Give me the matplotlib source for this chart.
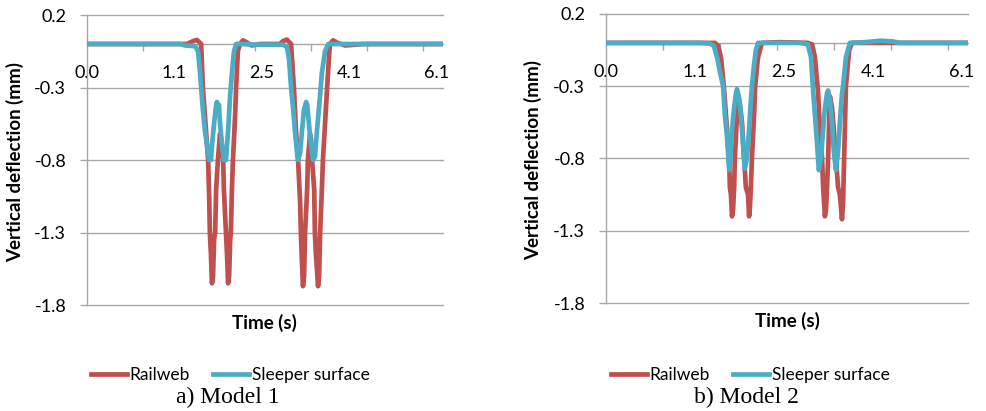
import matplotlib
matplotlib.use("Agg")
import matplotlib.pyplot as plt
from matplotlib.lines import Line2D

plt.rcParams['font.family'] = ['Lato', 'DejaVu Sans']

# ---------------- data (x in category/sample positions along the Excel axis) -------------
time_labels = ["0.0", "1.1", "2.5", "4.1", "6.1"]
label_pos = [0, 25, 50, 75, 100]
minor_pos = [0, 16, 32, 48, 64, 80, 96]
y_ticks = [0.2, -0.3, -0.8, -1.3, -1.8]
x_max = 101.7

m1_rail_x = [0, 28.6, 30.3, 31.4, 32.6, 33.1, 34.0, 34.6, 34.9, 35.1, 35.4, 35.7, 36.0, 36.3,
             36.6, 36.9, 37.4, 38.0, 38.3, 38.9, 39.1, 39.7, 40.0, 40.3, 40.6, 40.9, 41.1,
             41.4, 41.7, 42.3, 42.6, 43.1, 43.7, 44.6, 45.7, 47.1, 49.4, 55.1, 56.0, 57.1,
             58.3, 59.1, 59.7, 60.3, 60.9, 61.1, 61.4, 61.7, 62.0, 62.3, 62.9, 63.1, 63.7,
             64.0, 64.3, 64.9, 65.1, 65.4, 66.0, 66.3, 66.6, 67.1, 67.4, 68.0, 68.6, 69.1,
             69.4, 70.3, 71.4, 73.7, 76.6, 78.9, 101.7]
m1_rail_y = [0, 0, 0.02, 0.028, 0.0, -0.3, -0.6, -0.8, -1.05, -1.3, -1.45, -1.65, -1.6, -1.35,
             -1.3, -1.0, -0.8, -0.62, -0.65, -0.8, -1.0, -1.3, -1.45, -1.65, -1.6, -1.35, -1.3,
             -1.0, -0.8, -0.5, -0.3, -0.05, 0.0, 0.025, 0.01, -0.01, 0.0, 0.0, 0.02, 0.03,
             0.0, -0.3, -0.6, -0.8, -1.1, -1.3, -1.5, -1.67, -1.6, -1.3, -1.0, -0.8, -0.62,
             -0.66, -0.8, -1.0, -1.3, -1.45, -1.67, -1.6, -1.3, -1.0, -0.8, -0.55, -0.3, -0.1,
             0.0, 0.025, 0.01, -0.01, -0.005, 0.0, 0.0]

m1_sleeper_x = [0, 26.6, 28.0, 30.9, 31.7, 32.3, 32.6, 33.1, 33.7, 34.3, 34.9, 35.1, 35.4, 35.7,
                36.3, 36.9, 37.1, 37.4, 37.7, 38.0, 38.6, 39.1, 39.7, 40.3, 40.9, 41.4, 42.0,
                42.6, 43.7, 49.4, 56.0, 57.1, 57.7, 58.3, 58.9, 59.4, 60.0, 60.3, 60.9, 61.4,
                62.0, 62.6, 62.9, 63.4, 64.0, 64.6, 65.1, 65.7, 66.6, 67.1, 68.0, 68.9, 101.7]
m1_sleeper_y = [0, 0, -0.01, -0.015, -0.05, -0.2, -0.3, -0.45, -0.6, -0.7, -0.8, -0.75, -0.8,
                -0.7, -0.55, -0.42, -0.4, -0.45, -0.42, -0.55, -0.7, -0.8, -0.8, -0.6, -0.35,
                -0.2, -0.05, 0.0, 0.0, -0.005, -0.005, -0.02, -0.1, -0.3, -0.45, -0.6, -0.75,
                -0.8, -0.75, -0.6, -0.45, -0.4, -0.42, -0.55, -0.7, -0.8, -0.78, -0.6, -0.35,
                -0.2, -0.05, 0.0, 0.0]

m2_rail_x = [0, 26.4, 30.6, 31.5, 32.3, 33.1, 34.0, 34.6, 34.8, 35.1, 35.4, 35.7, 36.0, 36.2,
             36.8, 37.1, 37.6, 38.2, 38.8, 39.3, 39.9, 40.2, 40.4, 40.7, 41.0, 41.6, 41.9,
             42.7, 43.8, 48.9, 56.7, 57.9, 58.7, 59.6, 60.1, 60.7, 61.0, 61.5, 61.8, 62.1,
             62.4, 62.9, 63.5, 64.0, 64.6, 65.2, 65.7, 66.3, 66.6, 66.9, 67.4, 68.3, 69.1,
             74.2, 101.7]
m2_rail_y = [0, 0, 0.0, -0.02, -0.1, -0.3, -0.6, -0.8, -1.0, -1.05, -1.2, -1.15, -1.0, -0.8,
             -0.5, -0.37, -0.42, -0.55, -0.8, -1.0, -1.05, -1.2, -1.15, -1.0, -0.8, -0.5, -0.3,
             -0.1, 0.0, 0.005, 0.0, -0.01, -0.1, -0.35, -0.6, -0.8, -1.0, -1.2, -1.15, -1.0,
             -0.8, -0.37, -0.45, -0.6, -0.8, -1.0, -1.05, -1.22, -1.1, -0.8, -0.3, -0.05, 0.0,
             0.0, 0.0]

m2_sleeper_x = [0, 26.4, 29.2, 30.3, 31.2, 32.0, 32.9, 33.4, 34.0, 34.6, 34.8, 35.4, 36.0,
                36.5, 36.8, 37.4, 37.9, 38.5, 39.0, 39.6, 40.2, 40.7, 41.0, 41.6, 42.1, 42.7,
                54.5, 56.7, 57.6, 58.1, 58.7, 59.3, 59.8, 60.4, 61.0, 61.5, 62.1, 62.4, 62.9,
                63.5, 64.0, 64.6, 65.2, 65.7, 66.3, 66.6, 67.4, 68.5, 72.8, 77.0, 80.6, 82.6,
                101.7]
m2_sleeper_y = [0, 0, -0.005, -0.02, -0.1, -0.2, -0.3, -0.5, -0.65, -0.88, -0.85, -0.6, -0.45,
                -0.35, -0.32, -0.38, -0.5, -0.7, -0.87, -0.8, -0.6, -0.4, -0.3, -0.15, -0.05,
                0.0, 0.0, -0.01, -0.1, -0.3, -0.5, -0.7, -0.88, -0.8, -0.6, -0.45, -0.35, -0.33,
                -0.4, -0.55, -0.75, -0.88, -0.75, -0.55, -0.35, -0.3, -0.1, 0.0, 0.005, 0.015,
                0.01, 0.0, 0.0]

series_names = ["Railweb", "Sleeper surface"]
captions = ["a) Model 1", "b) Model 2"]

# ---------------- styling ----------------
RED = '#C0504D'
BLUE = '#4BACC6'
GRID = '#A6A6A6'
W, H = 986, 411
LW = 3.4

fig = plt.figure(figsize=(W / 100, H / 100), dpi=100)


def fx(px):
    return px / W


def fy(py):
    return 1 - py / H


ax1 = fig.add_axes([fx(87), fy(305), (443 - 87) / W, (305 - 15) / H])
ax2 = fig.add_axes([fx(606), fy(303), (968 - 606) / W, (303 - 14) / H])

panels = [
    (ax1, m1_rail_x, m1_rail_y, m1_sleeper_x, m1_sleeper_y),
    (ax2, m2_rail_x, m2_rail_y, m2_sleeper_x, m2_sleeper_y),
]

for ax, rx, ry, sx, sy in panels:
    ax.plot(rx, ry, color=RED, lw=LW, solid_joinstyle='round', solid_capstyle='butt',
            zorder=3, clip_on=False)
    ax.plot(sx, sy, color=BLUE, lw=LW, solid_joinstyle='round', solid_capstyle='butt',
            zorder=4, clip_on=False)
    ax.set_xlim(0, x_max)
    ax.set_ylim(-1.8, 0.2)
    ax.set_yticks(y_ticks)
    ax.set_yticklabels([f"{v:.1f}" for v in y_ticks])
    ax.set_xticks(label_pos)
    ax.set_xticklabels(time_labels)
    ax.set_xticks(minor_pos, minor=True)
    for s in ['top', 'right']:
        ax.spines[s].set_visible(False)
    ax.spines['bottom'].set_position(('data', 0))
    ax.spines['bottom'].set_zorder(2)
    for s in ['left', 'bottom']:
        ax.spines[s].set_color(GRID)
        ax.spines[s].set_linewidth(1.0)
    ax.grid(axis='y', color=GRID, lw=1.0)
    for gl in ax.get_ygridlines():
        gl.set_clip_on(False)
    ax.set_axisbelow(True)
    ax.tick_params(axis='y', length=5, width=1.0, color=GRID, pad=10, labelsize=13,
                   labelcolor='black')
    ax.tick_params(axis='x', which='major', length=0, pad=15, labelsize=13,
                   labelcolor='black')
    ax.tick_params(axis='x', which='minor', length=5, width=1.0, color=GRID, direction='out')

# axis titles
fig.text(fx(15), fy(162), "Vertical deflection (mm)", rotation=90, ha='center', va='center',
         fontsize=13.5, fontweight='bold')
fig.text(fx(533), fy(160), "Vertical deflection (mm)", rotation=90, ha='center', va='center',
         fontsize=13.5, fontweight='bold')
fig.text(fx(264), fy(323), "Time (s)", ha='center', va='center', fontsize=13.5,
         fontweight='bold')
fig.text(fx(787), fy(321), "Time (s)", ha='center', va='center', fontsize=13.5,
         fontweight='bold')

# legends
handles = [Line2D([], [], color=RED, lw=LW), Line2D([], [], color=BLUE, lw=LW)]
for cx in (230, 750):
    fig.legend(handles, series_names, loc='center', bbox_to_anchor=(fx(cx), fy(375)),
               ncol=2, frameon=False, fontsize=12.5, handlelength=2.1, handletextpad=0.15,
               columnspacing=1.3, borderpad=0)

# captions
for cx, cap in zip((228, 746), captions):
    fig.text(fx(cx), fy(397), cap, ha='center', va='center', fontsize=17,
             family='Liberation Serif')

fig.savefig("out.png", dpi=100)
